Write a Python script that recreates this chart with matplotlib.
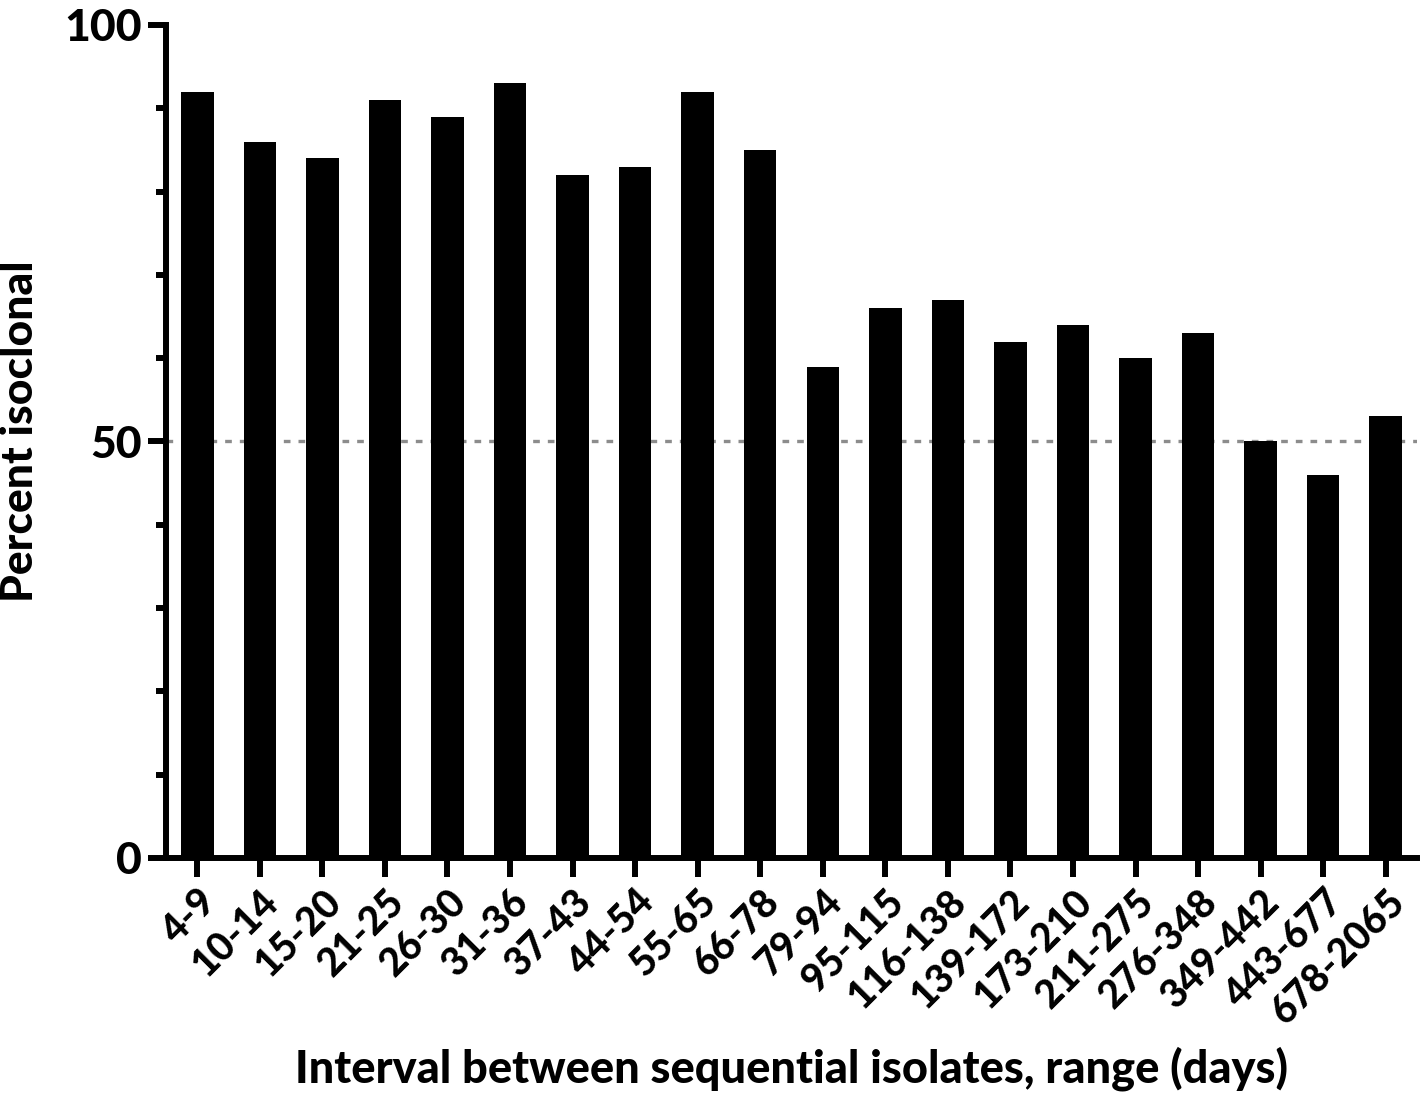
import matplotlib.pyplot as plt
from matplotlib.ticker import MultipleLocator

# data
intervals = ['4-9', '10-14', '15-20', '21-25', '26-30', '31-36', '37-43',
             '44-54', '55-65', '66-78', '79-94', '95-115', '116-138',
             '139-172', '173-210', '211-275', '276-348', '349-442',
             '443-677', '678-2065']
pct_isoclonal = [92, 86, 84, 91, 89, 93, 82, 83, 92, 85,
                 59, 66, 67, 62, 64, 60, 63, 50, 46, 53]

plt.rcParams['font.family'] = ['Lato', 'DejaVu Sans']
WEIGHT = 900

LW = 4.3

fig = plt.figure(figsize=(14.21, 10.96), dpi=100)
ax = fig.add_axes([0.1168, 0.2172, 0.8804, 0.76])

x = list(range(len(intervals)))
ax.bar(x, pct_isoclonal, width=0.52, color='black', zorder=2)
ax.axhline(50, color='#8c8c8c', lw=2.4, ls=(0, (2.0, 2.4)), zorder=1)

ax.set_xlim(-0.5, len(intervals) - 0.5)
ax.set_ylim(0, 100)

for side in ['top', 'right']:
    ax.spines[side].set_visible(False)
for side in ['left', 'bottom']:
    ax.spines[side].set_linewidth(LW)
    ax.spines[side].set_capstyle('projecting')

ax.yaxis.set_major_locator(MultipleLocator(50))
ax.yaxis.set_minor_locator(MultipleLocator(10))
ax.tick_params(axis='y', which='major', length=13, width=LW, pad=4,
               labelsize=32)
ax.tick_params(axis='y', which='minor', length=7, width=LW)
ax.tick_params(axis='x', which='major', length=14, width=LW, pad=4,
               labelsize=28)

ax.set_xticks(x)
ax.set_xticklabels(intervals, rotation=45, ha='right',
                   rotation_mode='anchor', fontweight=WEIGHT)
for lab in ax.get_yticklabels():
    lab.set_fontweight(WEIGHT)

ax.set_ylabel('Percent isoclonal', fontsize=32, fontweight=WEIGHT)
ax.set_xlabel('Interval between sequential isolates, range (days)',
              fontsize=32.5, fontweight=WEIGHT)
ax.yaxis.set_label_coords(-0.101, 0.512)
ax.xaxis.set_label_coords(0.5, -0.226)

plt.savefig('out.png', dpi=100)
